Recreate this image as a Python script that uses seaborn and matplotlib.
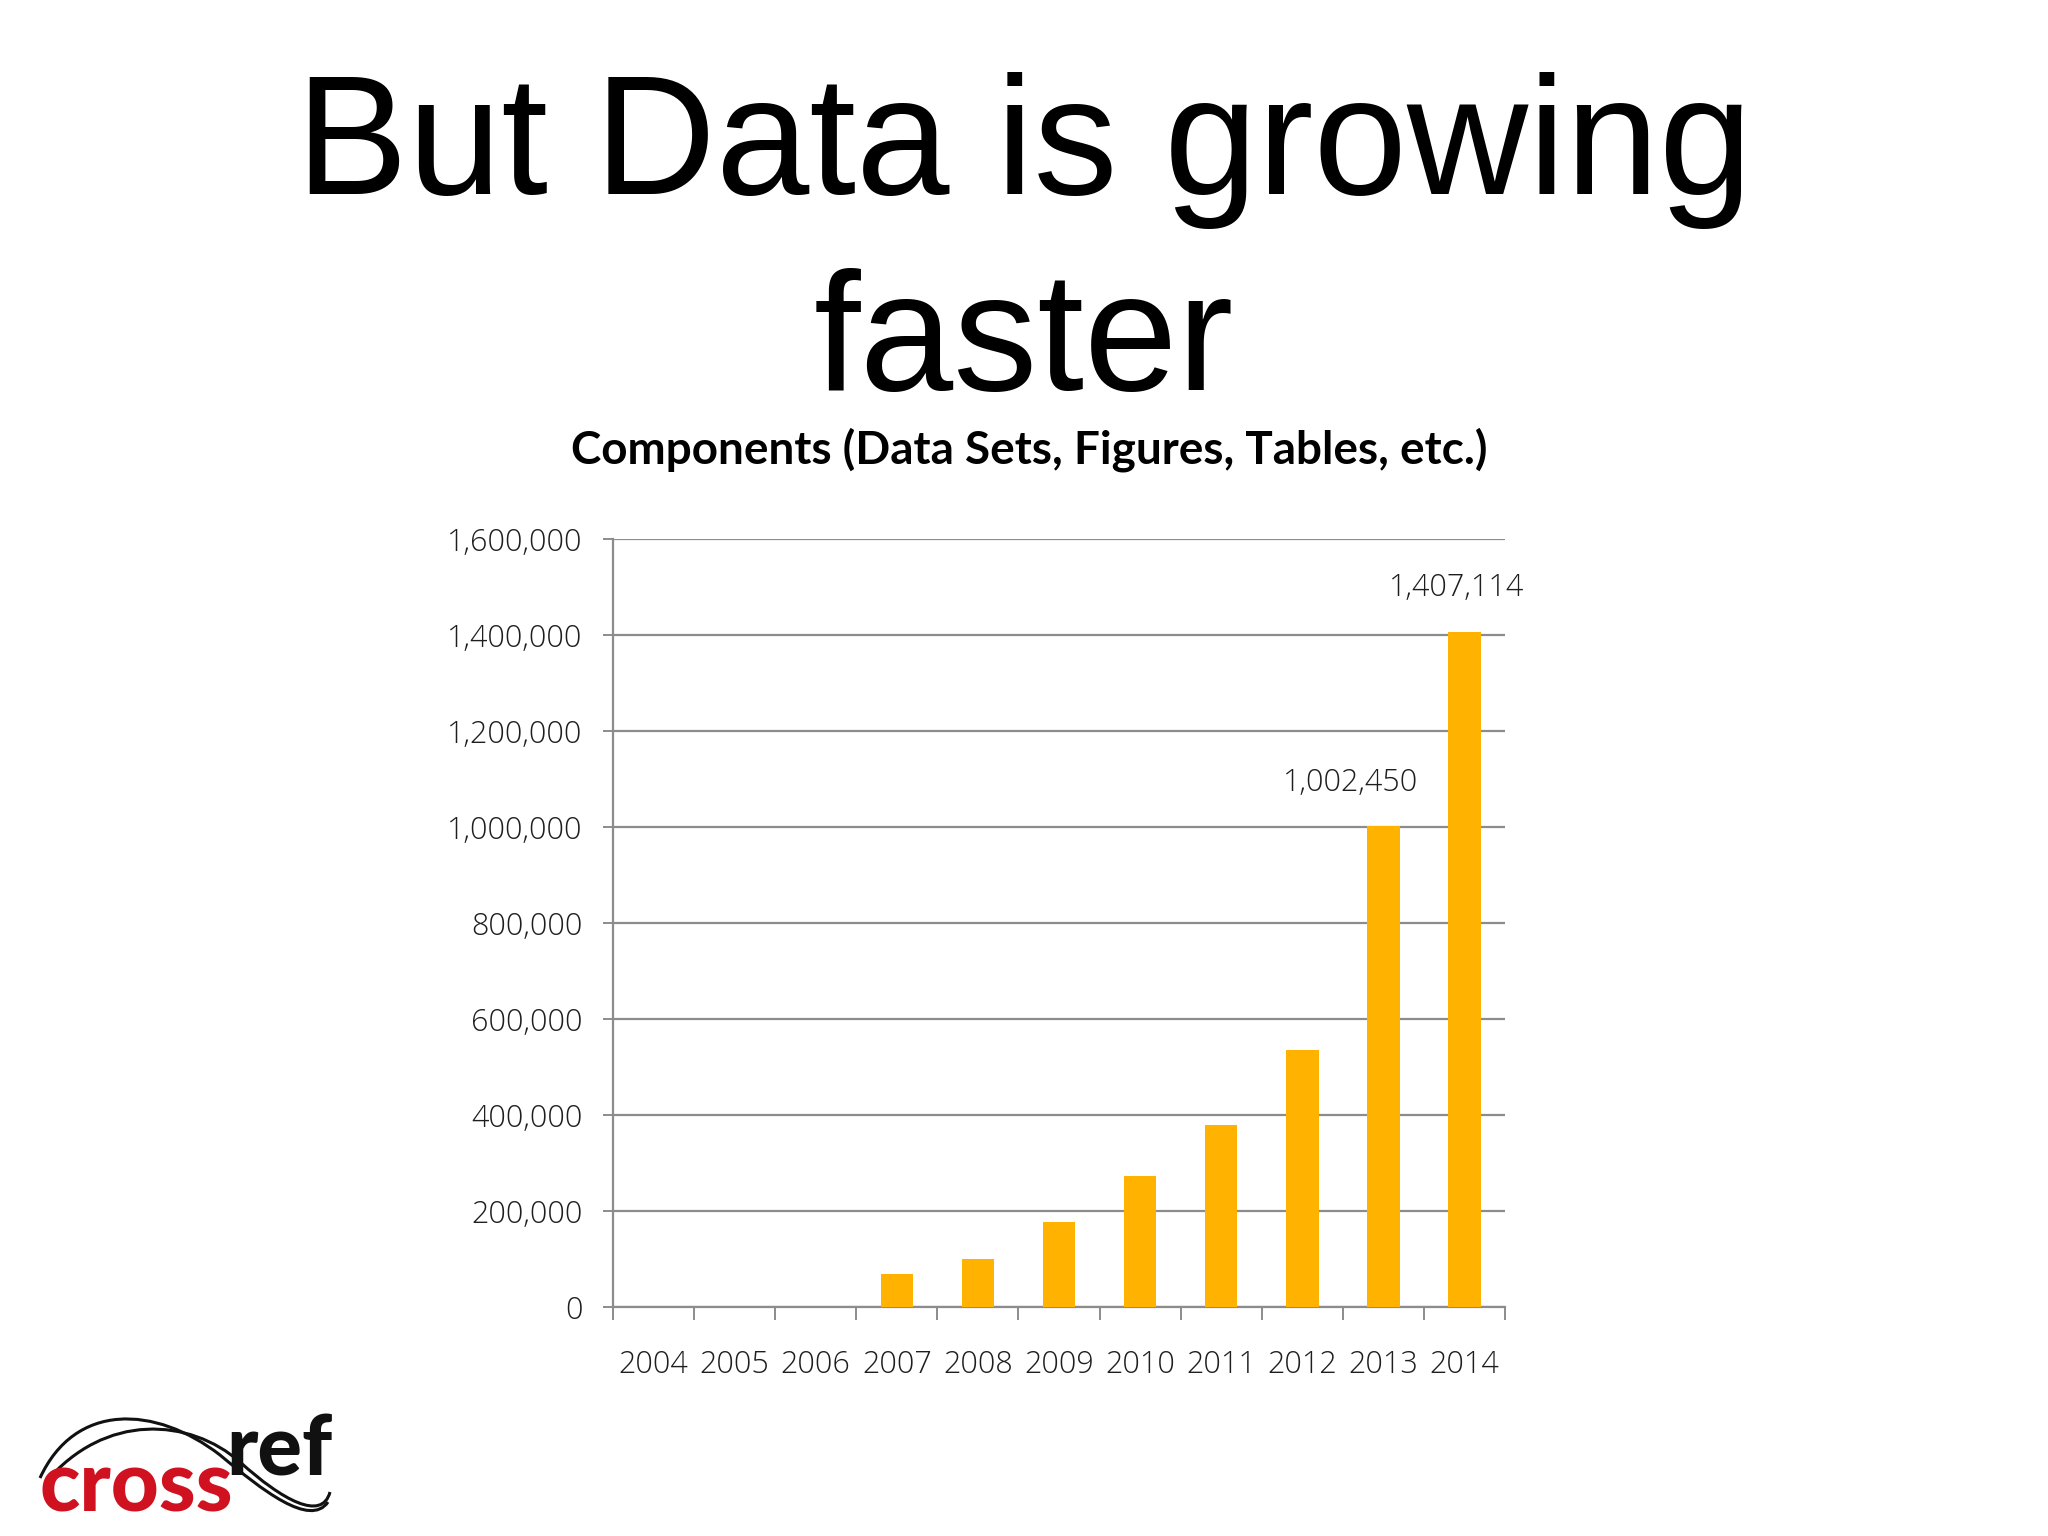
import matplotlib
matplotlib.use("Agg")
import matplotlib.pyplot as plt
import seaborn as sns
import pandas as pd
from matplotlib.ticker import FuncFormatter, FixedLocator
from matplotlib.path import Path
from matplotlib.patches import PathPatch

# ---- data ----
years = ["2004", "2005", "2006", "2007", "2008", "2009", "2010", "2011", "2012", "2013", "2014"]
components = [0, 0, 0, 68000, 99000, 178000, 272000, 379000, 536000, 1002450, 1407114]
labelled_years = ["2013", "2014"]
y_ticks = [0, 200000, 400000, 600000, 800000, 1000000, 1200000, 1400000, 1600000]

subtitle_text = "Components (Data Sets, Figures, Tables, etc.)"

BAR_COLOR = "#FFB300"
GRID_COLOR = "#8C8C8C"
TEXT_COLOR = "#1E1E1E"

sns.set_theme(style="white")
plt.rcParams["font.family"] = ["Open Sans", "DejaVu Sans"]

fig = plt.figure(figsize=(20.48, 15.36), dpi=100)
fig.patch.set_facecolor("white")

ax = fig.add_axes([0.2993, 0.1491, 0.7349 - 0.2993, 0.6491 - 0.1491])
df = pd.DataFrame({"year": years, "value": components})
sns.barplot(data=df, x="year", y="value", color=BAR_COLOR, saturation=1,
            width=0.4, ax=ax, zorder=3, linewidth=0)

ax.set_ylim(0, 1600000)
ax.set_xlim(-0.5, len(years) - 0.5)
ax.yaxis.set_major_locator(FixedLocator(y_ticks))
ax.yaxis.set_major_formatter(FuncFormatter(lambda v, p: f"{int(v):,}"))
ax.set_xlabel("")
ax.set_ylabel("")

ax.grid(axis="y", color=GRID_COLOR, linewidth=1.6, zorder=0)
ax.grid(axis="x", visible=False)
for s in ["top", "right"]:
    ax.spines[s].set_visible(False)
ax.spines["left"].set_color(GRID_COLOR)
ax.spines["left"].set_linewidth(1.6)
ax.spines["bottom"].set_color(GRID_COLOR)
ax.spines["bottom"].set_linewidth(1.6)

ax.tick_params(axis="y", which="major", left=True, length=7, width=1.4,
               color=GRID_COLOR, pad=15, labelsize=22, labelcolor=TEXT_COLOR)
ax.tick_params(axis="x", which="major", bottom=False, length=0, pad=30,
               labelsize=22, labelcolor=TEXT_COLOR)
ax.xaxis.set_minor_locator(FixedLocator([i - 0.5 for i in range(len(years) + 1)]))
ax.tick_params(axis="x", which="minor", bottom=True, length=9, width=1.4,
               color=GRID_COLOR)
for lab in ax.get_xticklabels() + ax.get_yticklabels():
    lab.set_fontweight(300)

# data labels for last two bars
label_dx = {"2013": -0.4, "2014": -0.1}
for yr in labelled_years:
    i = years.index(yr)
    v = components[i]
    ax.text(i + label_dx[yr], v + 90000, f"{v:,}", ha="center", va="center",
            fontsize=22, color=TEXT_COLOR, fontweight=300)

# titles
fig.text(0.5, 0.874, "But Data is growing", ha="center", va="baseline",
         fontsize=121, family=["Liberation Sans", "DejaVu Sans"], color="black")
fig.text(0.5, 0.746, "faster", ha="center", va="baseline",
         fontsize=121, family=["Liberation Sans", "DejaVu Sans"], color="black")
fig.text(1029 / 2048, 1 - 464 / 1536, subtitle_text, ha="center", va="baseline",
         fontsize=33, fontweight="bold", family=["Lato", "DejaVu Sans"], color="black")

# crossref logo (decoration)
lax = fig.add_axes([0, 0, 1, 1], zorder=5)
lax.set_xlim(0, 2048)
lax.set_ylim(1536, 0)
lax.axis("off")
lax.patch.set_alpha(0)
lax.text(40, 1512, "cross", fontsize=60, fontweight="black",
         family=["Lato", "DejaVu Sans"], color="#D0111F", va="baseline", ha="left")
lax.text(226, 1476, "ref", fontsize=60, fontweight="black",
         family=["Lato", "DejaVu Sans"], color="#111111", va="baseline", ha="left")
curveA = [(40, 1478), (75, 1402), (155, 1405), (220, 1455),
          (262, 1490), (310, 1528), (328, 1502)]
curveB = [(46, 1482), (105, 1412), (190, 1418), (240, 1462),
          (282, 1500), (322, 1522), (330, 1492)]
codes = [Path.MOVETO] + [Path.CURVE4] * 6
for c in (curveA, curveB):
    lax.add_patch(PathPatch(Path(c, codes), fill=False, edgecolor="#111111", lw=2.2))

fig.savefig("out.png", dpi=100, facecolor="white")
